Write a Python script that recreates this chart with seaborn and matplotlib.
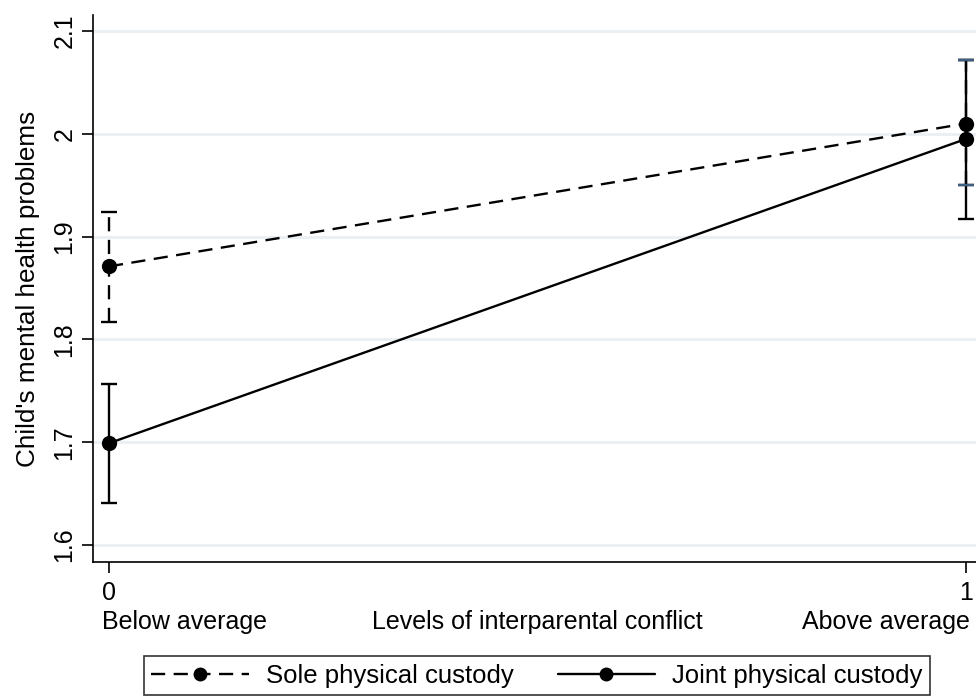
import matplotlib
matplotlib.use("Agg")
import matplotlib.pyplot as plt
from matplotlib.lines import Line2D
import numpy as np
import pandas as pd
import seaborn as sns

# Predicted margins by level of interparental conflict (0 = below, 1 = above average)
conflict = [0, 1]
sole_mean = [1.871, 2.010]
sole_lo = [1.817, 1.950]
sole_hi = [1.924, 2.072]
joint_mean = [1.699, 1.995]
joint_lo = [1.641, 1.917]
joint_hi = [1.757, 2.072]
groups = ["Sole physical custody", "Joint physical custody"]
y_ticks = [1.6, 1.7, 1.8, 1.9, 2.0, 2.1]
y_tick_labels = ["1.6", "1.7", "1.8", "1.9", "2", "2.1"]

df = pd.DataFrame({
    "conflict": conflict * 2,
    "margin": sole_mean + joint_mean,
    "custody": [groups[0]] * 2 + [groups[1]] * 2,
})

sns.set_theme(style="white")
plt.rcParams["font.family"] = ["Liberation Sans", "DejaVu Sans"]
plt.rcParams["text.color"] = "black"
plt.rcParams["axes.labelcolor"] = "black"
plt.rcParams["xtick.color"] = "black"
plt.rcParams["ytick.color"] = "black"
FS = 18
LW = 1.7
DASH = (0, (6, 3.6))
CAP_BLUE = "#3f5f80"

fig = plt.figure(figsize=(9.76, 7.0), dpi=100)
ax = fig.add_axes([93 / 976, 1 - 562 / 700, (982 - 93) / 976, (562 - 15) / 700])

# confidence intervals
ax.errorbar(conflict, sole_mean,
            yerr=[np.subtract(sole_mean, sole_lo), np.subtract(sole_hi, sole_mean)],
            fmt="none", ecolor="black", elinewidth=LW, capsize=5.5, capthick=LW,
            zorder=2)
ax.collections[0].set_linestyle(DASH)
ax.errorbar(conflict, joint_mean,
            yerr=[np.subtract(joint_mean, joint_lo), np.subtract(joint_hi, joint_mean)],
            fmt="none", ecolor="black", elinewidth=LW, capsize=5.5, capthick=LW,
            zorder=3)
# caps of the sole-custody interval at the upper conflict level
ax.plot([conflict[1], conflict[1]], [sole_lo[1], sole_hi[1]], linestyle="none",
        marker="_", markersize=11, markeredgewidth=LW, color=CAP_BLUE, zorder=4)

sns.lineplot(data=df, x="conflict", y="margin", style="custody",
             style_order=groups, dashes={groups[0]: (6, 3.6), groups[1]: ""},
             markers={groups[0]: "o", groups[1]: "o"}, markersize=11,
             markeredgewidth=0, color="black", linewidth=LW, ax=ax,
             legend=False, zorder=5)

ax.set_xlim(-16 / 857, 1 + 16 / 857)
ax.set_ylim(1.6 - 17 / 1028, 2.1 + 16 / 1028)
ax.set_yticks(y_ticks)
ax.set_yticklabels(y_tick_labels, rotation=90, va="center", fontsize=FS)
ax.set_xticks(conflict)
ax.set_xticklabels(["0", "1"], fontsize=FS)
ax.tick_params(axis="both", which="both", direction="out", length=8, width=1.2,
               color="black", bottom=True, left=True)
ax.tick_params(axis="y", pad=4)
ax.tick_params(axis="x", pad=6)

ax.yaxis.grid(True, color="#e9eff3", linewidth=2)
ax.xaxis.grid(False)
ax.set_axisbelow(True)
for side in ["top", "right"]:
    ax.spines[side].set_visible(False)
for side in ["left", "bottom"]:
    ax.spines[side].set_color("black")
    ax.spines[side].set_linewidth(1.2)

ax.set_ylabel("Child's mental health problems", fontsize=18.8, labelpad=9)
ax.set_xlabel("")
# axis title with the two level descriptions on the same line
ytxt = -(610 - 562) / 547
ax.text(9 / 889, ytxt, "Below average", transform=ax.transAxes, fontsize=FS,
        ha="left", va="top")
ax.text(0.5, ytxt, "Levels of interparental conflict", transform=ax.transAxes,
        fontsize=FS, ha="center", va="top")
ax.text(1 - 12 / 889, ytxt, "Above average", transform=ax.transAxes, fontsize=FS,
        ha="right", va="top")

handles = [
    Line2D([], [], color="black", linewidth=LW, linestyle=DASH, marker="o",
           markersize=10, markeredgewidth=0),
    Line2D([], [], color="black", linewidth=LW, marker="o",
           markersize=10, markeredgewidth=0),
]
leg = fig.legend(handles, groups, loc="upper center",
                 bbox_to_anchor=(537 / 976, 1 - 656 / 700), ncol=2,
                 fontsize=18.5, frameon=True, fancybox=False, handlelength=3.8,
                 handletextpad=0.66, columnspacing=1.7, borderpad=0.3,
                 borderaxespad=0)
leg.get_frame().set_edgecolor("black")
leg.get_frame().set_linewidth(1.2)

fig.savefig("out.png", dpi=100)
